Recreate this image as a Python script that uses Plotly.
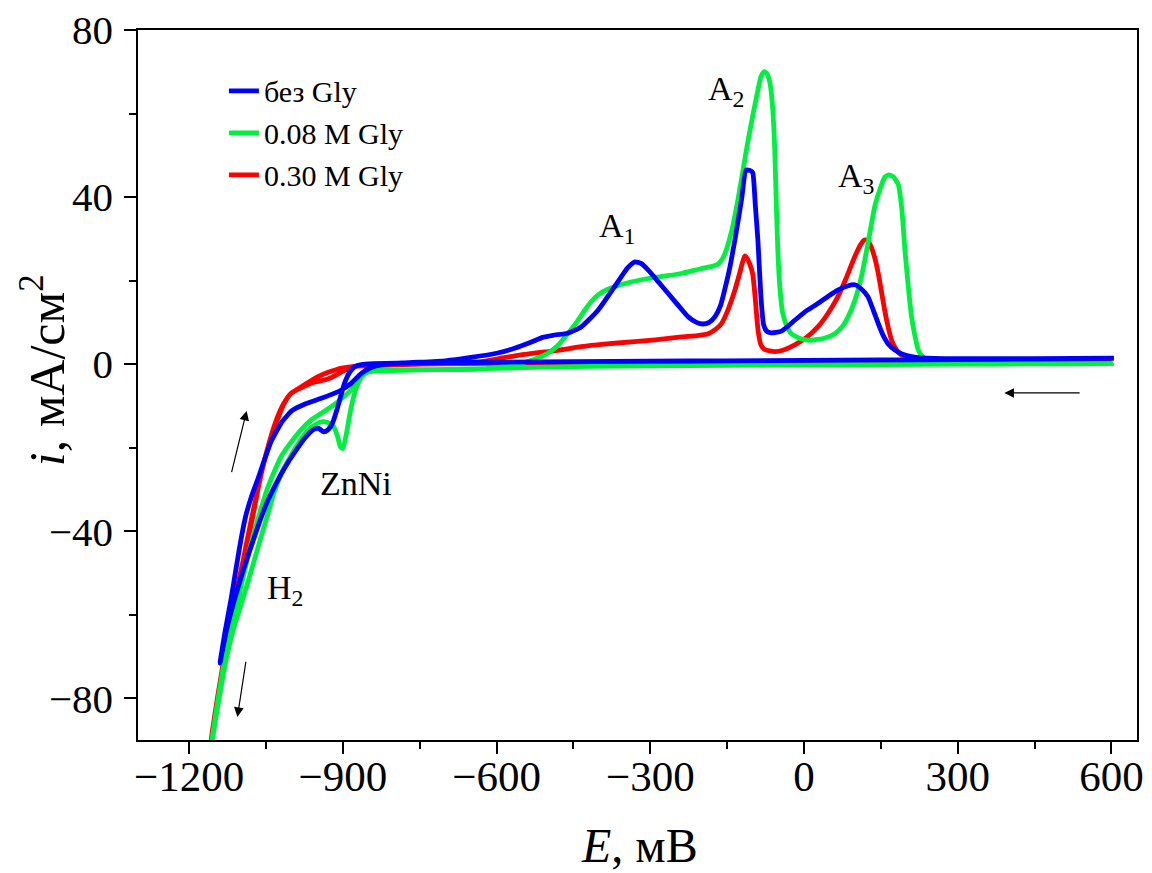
import plotly.graph_objects as go

# ---------------- data ----------------
# без Gly : forward (cathodic) sweep then reverse (anodic) sweep
blue_E = [605, 450, 300, 150, 0, -150, -300, -450, -600, -750, -840, -864, -877, -886, -897, -910,
          -920, -930, -938, -947, -957, -975, -1007, -1030, -1046, -1059, -1076, -1095, -1112, -1128, -1140,
          -1138, -1130, -1118, -1108, -1099, -1090, -1078, -1066, -1052, -1040, -1020, -1000, -975, -942, -903,
          -884, -864, -845, -825, -780, -700, -650, -600, -565, -532, -510, -490, -461, -435, -402, -370,
          -344, -330, -318, -304, -285, -265, -245, -226, -210, -197, -185, -174, -163, -155, -145, -135,
          -122, -113, -104, -100, -95, -90, -84, -79, -73, -64, -44, -18, 5, 27, 48, 66, 85, 99, 112, 125,
          135, 145, 154, 164, 177, 190, 210, 229, 300, 450, 605]
blue_i = [1.3, 1.2, 1.1, 1.0, 0.9, 0.8, 0.7, 0.6, 0.45, 0.3, 0.1, -0.1, -0.6, -1.8, -4.6, -10.2,
          -14.0, -15.8, -16.2, -15.4, -15.6, -17.8, -23.5, -28.5, -32.5, -36.5, -42.5, -49.5, -56.5, -64.0, -71.6,
          -70.0, -64.0, -56.0, -48.5, -42.0, -36.5, -31.5, -27.5, -22.5, -18.5, -14.0, -11.2, -9.6, -8.2, -6.2,
          -4.6, -2.2, -0.8, -0.1, 0.3, 0.8, 1.6, 2.6, 3.8, 5.3, 6.4, 6.9, 7.4, 8.9, 12.9, 18.5,
          23.1, 24.5, 24.1, 22.5, 19.8, 16.9, 14.0, 11.3, 10.0, 9.6, 10.0, 11.3, 14.0, 17.7, 23.0, 29.7,
          39.3, 46.5, 46.3, 45.8, 38.0, 29.7, 16.0, 9.5, 7.9, 7.5, 7.9, 10.5, 12.8, 14.5, 16.3, 17.7, 18.7, 19.0, 18.0, 16.1,
          13.0, 9.7, 7.0, 4.9, 3.4, 2.5, 1.8, 1.5, 1.3, 1.3, 1.4]

# 0.08 M Gly
green_E = [600, 450, 300, 150, 0, -150, -300, -450, -600, -750, -840, -856, -866, -876, -885, -893,
           -900, -905, -910, -918, -930, -942, -955, -968, -990, -1020, -1035, -1048, -1059, -1072, -1085,
           -1100, -1115, -1130, -1143, -1155, -1163,
           -1157, -1146, -1134, -1120, -1105, -1090, -1075, -1062, -1048, -1035, -1020, -1000, -980, -960,
           -940, -916, -900, -884, -872, -864, -850, -820, -750, -680, -630, -600, -565, -530, -500, -480,
           -461, -445, -428, -415, -402, -385, -370, -340, -304, -270, -239, -200, -180, -168, -158, -150,
           -140, -129, -119, -109, -100, -90, -84, -78, -72, -66, -61, -57, -54, -51, -47.5, -42, -35, -25,
           -5, 14, 40, 60, 75, 86, 100, 112, 125, 138, 150, 158, 166, 175, 184, 191, 197, 204, 210, 217,
           223, 230, 236, 250, 300, 450, 600]
green_i = [0.15, 0.05, 0.0, -0.1, -0.2, -0.3, -0.4, -0.6, -1.0, -1.4, -1.7, -2.2, -3.5, -6.5, -11.0, -16.5,
           -20.2, -19.8, -17.5, -15.0, -14.0, -13.8, -14.6, -15.8, -19.5, -26.1, -31.0, -36.5, -41.0, -46.5, -52.0,
           -58.0, -64.0, -72.0, -81.0, -90.0, -97.0,
           -91.0, -82.0, -73.0, -65.0, -56.5, -48.5, -41.0, -35.5, -30.0, -26.0, -22.0, -18.5, -15.5, -13.2,
           -11.6, -9.6, -8.0, -6.2, -4.2, -3.0, -1.8, -1.4, -1.3, -1.3, -1.2, -0.8, -0.1, 1.0, 2.6, 4.5,
           7.3, 9.8, 12.9, 15.0, 16.6, 17.8, 18.5, 19.6, 20.5, 21.1, 21.7, 22.9, 23.4, 23.9, 25.5, 28.0,
           32.5, 39.3, 46.5, 53.7, 59.5, 65.6, 68.8, 70.0, 69.5, 67.0, 61.0, 51.0, 38.0, 27.0, 19.0, 12.5, 9.5, 7.3,
           6.0, 5.7, 6.2, 7.3, 9.0, 11.3, 15.5, 20.9, 29.0, 37.7, 42.5, 44.8, 45.3, 44.8, 43.0, 37.0, 27.3, 18.0, 11.3, 6.5,
           3.4, 2.0, 1.4, 0.8, 0.4, 0.2, 0.15]

# 0.30 M Gly
red_E = [600, 450, 300, 150, 0, -150, -300, -450, -600, -750, -840, -870, -885, -897, -910, -922,
         -936, -955, -981, -1001, -1015, -1030, -1045, -1060, -1079, -1090, -1100, -1115, -1130, -1145, -1155, -1163,
         -1156, -1146, -1132, -1117, -1102, -1090, -1080, -1065, -1050, -1030, -1015, -1001, -981, -968,
         -955, -936, -920, -905, -890, -870, -800, -720, -660, -630, -600, -565, -530, -500, -470, -435,
         -390, -337, -290, -239, -205, -187, -172, -161, -150, -135, -125, -116, -112, -106, -100, -95,
         -92, -89, -84, -77, -57, -40, -18, 5, 27, 46, 66, 82, 99, 110, 118, 124, 131, 138, 145, 151,
         157.5, 164, 171, 180, 190, 205, 222, 300, 450, 600]
red_i = [0.9, 0.85, 0.8, 0.7, 0.6, 0.5, 0.4, 0.3, 0.2, 0.0, -0.2, -0.4, -0.9, -1.5, -2.4, -3.2,
         -3.8, -4.3, -5.6, -7.0, -9.5, -14.0, -19.5, -26.5, -37.4, -44.0, -50.5, -59.5, -69.0, -80.0, -88.0, -96.0,
         -89.5, -81.0, -70.5, -60.5, -51.0, -44.5, -39.0, -29.5, -21.5, -13.4, -9.3, -7.0, -5.4, -4.4,
         -3.4, -2.3, -1.6, -1.0, -0.7, -0.5, -0.2, 0.1, 0.4, 0.6, 1.2, 2.0, 2.6, 3.0, 3.5, 4.2,
         4.8, 5.3, 5.8, 6.5, 6.9, 7.3, 8.4, 9.7, 12.5, 17.7, 22.0, 25.9, 25.5, 24.0, 21.5, 15.5,
         11.0, 7.5, 4.6, 3.5, 3.0, 3.4, 4.6, 6.4, 8.9, 12.0, 16.1, 20.5, 25.7, 28.5, 29.7, 29.6, 28.1, 25.5, 21.7, 17.5,
         12.9, 9.0, 5.7, 3.5, 2.2, 1.7, 1.4, 1.0, 0.9, 0.9]

series_names = ["без Gly", "0.08 M Gly", "0.30 M Gly"]
series_colors = ["#0000FF", "#00F040", "#FF0000"]

x_range = [-1300, 650]
y_range = [-90, 80]

# ---------------- figure ----------------
FONT = "Liberation Serif, Times New Roman, serif"
fig = go.Figure()

# draw red first, then green, then blue on top
for E, I, name, col in [(red_E, red_i, series_names[2], series_colors[2]),
                        (green_E, green_i, series_names[1], series_colors[1]),
                        (blue_E, blue_i, series_names[0], series_colors[0])]:
    fig.add_trace(go.Scatter(x=E, y=I, mode="lines", name=name,
                             line=dict(color=col, width=4.8, shape="spline", smoothing=0.5)))

axis_common = dict(
    showgrid=False, zeroline=False, showline=True, linecolor="black", linewidth=1.5,
    mirror=True, ticks="outside", ticklen=12, tickwidth=1.5, tickcolor="black",
    automargin=False, ticklabeloverflow="allow",
)
fig.update_xaxes(range=x_range, tick0=0, dtick=300, ticklabelstandoff=-14,
                 tickfont=dict(family=FONT, size=43, color="black"),
                 minor=dict(ticks="outside", ticklen=7, tickwidth=1.5, tickcolor="black", dtick=150, tick0=0),
                 **axis_common)
fig.update_yaxes(range=y_range, tick0=0, dtick=40, ticklabelstandoff=3,
                 tickfont=dict(family=FONT, size=41, color="black"),
                 minor=dict(ticks="outside", ticklen=7, tickwidth=1.5, tickcolor="black", dtick=20, tick0=0),
                 **axis_common)

labels = [
    ("ZnNi", -874, -28.5),
    ("H<sub>2</sub>", -1014, -54),
    ("A<sub>1</sub>", -366, 32.5),
    ("A<sub>2</sub>", -152, 65.5),
    ("A<sub>3</sub>", 102, 44.5),
]
annotations = []
for t, x, y in labels:
    annotations.append(dict(text=t, x=x, y=y, xref="x", yref="y", showarrow=False,
                            font=dict(family=FONT, size=34, color="black")))

# arrows (head, tail)
arrows = [((391, -6.9), (541, -6.9)),
          ((-1088, -11.2), (-1118, -26.2)),
          ((-1106, -84.5), (-1089, -70.9))]
for (hx, hy), (tx, ty) in arrows:
    annotations.append(dict(x=hx, y=hy, ax=tx, ay=ty, xref="x", yref="y", axref="x", ayref="y",
                            showarrow=True, arrowhead=2, arrowsize=1.6, arrowwidth=1.2,
                            arrowcolor="black", text="", standoff=0, startstandoff=0))

# axis titles
annotations.append(dict(text="<i>E</i>, мВ", x=0.5025, y=-0.149, xref="paper", yref="paper",
                        showarrow=False, yanchor="middle",
                        font=dict(family=FONT, size=48, color="black")))
annotations.append(dict(text="<i>i</i>, мА/см<sup>2</sup>", x=-0.095, y=0.521, xref="paper", yref="paper",
                        showarrow=False, textangle=-90, xanchor="center", yanchor="middle",
                        font=dict(family=FONT, size=50, color="black")))

# page body has an 8px margin, so the figure is 8px smaller than the window
fig.update_layout(
    width=1144, height=865,
    margin=dict(l=130, r=15, t=22, b=133),
    paper_bgcolor="white", plot_bgcolor="white",
    showlegend=True,
    legend=dict(x=0.086, y=0.951, xanchor="left", yanchor="top", traceorder="reversed",
                bgcolor="rgba(0,0,0,0)", borderwidth=0,
                font=dict(family=FONT, size=30, color="black"), tracegroupgap=0),
    annotations=annotations,
)

fig.write_html("out.html")
